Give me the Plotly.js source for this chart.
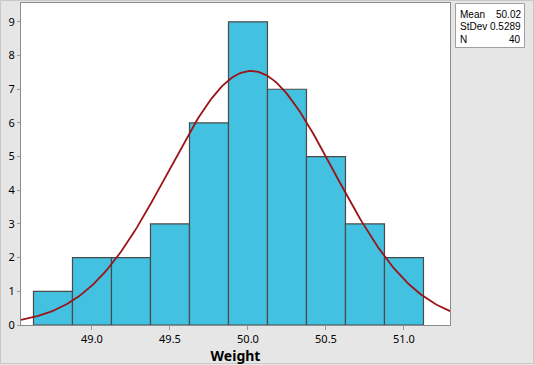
<!DOCTYPE html>
<html><head><meta charset="utf-8">
<script src="https://cdn.plot.ly/plotly-3.0.1.min.js"></script>
<style>html,body{margin:0;padding:0;background:#e6e6e6;}#c{width:534px;height:365px;}</style>
</head><body><div id="c"></div>
<script>
const binCenters = [48.75, 49.0, 49.25, 49.5, 49.75, 50.0, 50.25, 50.5, 50.75, 51.0];
const counts = [1, 2, 2, 3, 6, 9, 7, 5, 3, 2];
const binWidth = 0.25;
const statLabels = ["Mean", "StDev", "N"];
const statValues = ["50.02", "0.5289", "40"];
const mean = 50.02, stdev = 0.5289, n = 40;
const xTicks = [49.0, 49.5, 50.0, 50.5, 51.0];

// fitted normal curve (Minitab "Normal" fit), scaled to counts
const cx = [], cy = [];
const x0 = 48.545, x1 = 51.295, steps = 200;
for (let i = 0; i <= steps; i++) {
  const x = x0 + (x1 - x0) * i / steps;
  const z = (x - mean) / stdev;
  cx.push(x);
  cy.push(n * binWidth * Math.exp(-0.5 * z * z) / (stdev * Math.sqrt(2 * Math.PI)));
}

const L = 21, R = 450, T = 3, B = 325;
const px = p => (p - L) / (R - L);
const py = q => (B - q) / (B - T);

const traces = [
  {type: 'bar', x: binCenters, y: counts, width: binWidth,
   marker: {color: '#43c1e0', line: {color: '#4a4a4a', width: 1.2}}, hoverinfo: 'x+y'},
  {type: 'scatter', mode: 'lines', x: cx, y: cy, line: {color: '#9a1418', width: 1.8}, hoverinfo: 'skip'}
];

const shapes = [
  {type: 'rect', xref: 'paper', yref: 'paper', x0: px(0.5), x1: px(533.5), y0: py(0.5), y1: py(363.5),
   line: {color: '#c8c8c8', width: 1}, fillcolor: 'rgba(0,0,0,0)', layer: 'below'},
  {type: 'rect', xref: 'paper', yref: 'paper', x0: px(455.5), x1: px(524.5), y0: py(47.5), y1: py(3.5),
   line: {color: '#a0a0a0', width: 1}, fillcolor: '#ffffff'}
];

const rowsY = [14, 26.5, 39];
const annotations = [];
statLabels.forEach((s, i) => {
  annotations.push({xref: 'paper', yref: 'paper', x: px(457.5), y: py(rowsY[i]), xanchor: 'left', yanchor: 'middle',
    text: s, showarrow: false, font: {family: 'Liberation Sans, Arial, sans-serif', size: 10, color: '#000'}});
  annotations.push({xref: 'paper', yref: 'paper', x: px(522.5), y: py(rowsY[i]), xanchor: 'right', yanchor: 'middle',
    text: statValues[i], showarrow: false, font: {family: 'Liberation Sans, Arial, sans-serif', size: 10, color: '#000'}});
});

const layout = {
  width: 534, height: 365,
  margin: {l: L, r: 534 - R, t: T, b: 365 - B, pad: 0},
  paper_bgcolor: '#e6e6e6', plot_bgcolor: '#ffffff',
  showlegend: false, bargap: 0,
  font: {family: 'Noto Sans, sans-serif', size: 11, color: '#000'},
  xaxis: {range: [48.545, 51.295], tickvals: xTicks, ticktext: xTicks.map(v => v.toFixed(1)),
    ticks: 'outside', ticklen: 4, tickcolor: '#999', showgrid: false, zeroline: false,
    showline: true, linecolor: '#8c8c8c', mirror: true,
    tickfont: {size: 11, color: '#000'},
    title: {text: '<b>Weight</b>', font: {size: 14, color: '#000'}, standoff: 4}},
  yaxis: {range: [0, 9.56], dtick: 1, tick0: 0, ticks: 'outside', ticklen: 3, tickcolor: '#999',
    showgrid: false, zeroline: false, showline: true, linecolor: '#8c8c8c', mirror: true,
    tickfont: {size: 11, color: '#000'}},
  shapes: shapes, annotations: annotations
};

Plotly.newPlot('c', traces, layout, {displayModeBar: false, staticPlot: true});
</script></body></html>
